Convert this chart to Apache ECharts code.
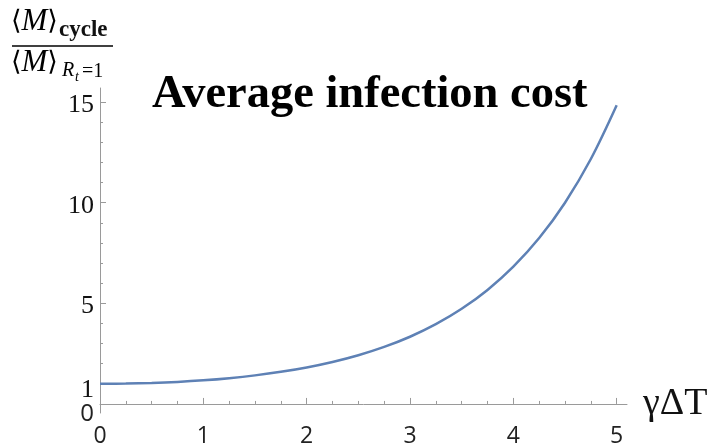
<!DOCTYPE html>
<html><head><meta charset="utf-8">
<script src="https://cdn.jsdelivr.net/npm/echarts@6/dist/echarts.min.js"></script>
<style>html,body{margin:0;padding:0;background:#fff}#c{width:714px;height:448px}</style>
</head><body><div id="c"></div>
<script>
const xValues = [0,0.25,0.5,0.75,1,1.25,1.5,1.75,2,2.25,2.5,2.75,3,3.25,3.5,3.75,4,4.25,4.5,4.75,5];
const costRatio = [1,1.010,1.042,1.096,1.175,1.282,1.420,1.595,1.813,2.085,2.420,2.833,3.339,3.962,4.727,5.666,6.823,8.243,10.00,12.17,14.84];
const xMajorTicks = [0,1,2,3,4,5];
const xMinorTicks = [0.25,0.5,0.75,1.25,1.5,1.75,2.25,2.5,2.75,3.25,3.5,3.75,4.25,4.5,4.75];
const xTickLabels = [0,1,2,3,4,5];
const yMajorTicks = [0,5,10,15];
const yMinorTicks = [1,2,3,4,6,7,8,9,11,12,13,14];
const yTickLabels = [1,5,10,15];
const yZeroLabel = [0];
const titleText = 'Average infection cost';
const xName = 'γΔT';

const axisGray = '#9a9a9a';
const chart = echarts.init(document.getElementById('c'));
const baseX = {type:'value', min:0, max:5.1, position:'bottom', splitLine:{show:false}};
const baseY = {type:'value', min:-0.45, max:15.7, position:'left', splitLine:{show:false}};
chart.setOption({
  animation:false,
  grid:{left:100, right:87, top:88, bottom:34},
  xAxis:[
    Object.assign({}, baseX, {
      axisLine:{lineStyle:{color:axisGray, width:1}},
      axisTick:{inside:true, length:6, customValues:xMajorTicks, lineStyle:{color:axisGray}},
      axisLabel:{customValues:xTickLabels, showMinLabel:true, margin:12, fontFamily:'Open Sans', fontSize:23, color:'#222'},
      name:xName, nameLocation:'end', nameGap:16,
      nameTextStyle:{fontFamily:'Liberation Serif', fontSize:38, color:'#111', verticalAlign:'middle'}
    }),
    Object.assign({}, baseX, {
      axisLine:{show:false},
      axisTick:{inside:true, length:3, customValues:xMinorTicks, lineStyle:{color:axisGray}},
      axisLabel:{show:false}
    })
  ],
  yAxis:[
    Object.assign({}, baseY, {
      axisLine:{lineStyle:{color:axisGray, width:1}},
      axisTick:{inside:true, length:6, customValues:yMajorTicks, lineStyle:{color:axisGray}},
      axisLabel:{customValues:yTickLabels, showMinLabel:true, margin:6,
        formatter:v => v===1 ? '{o|1}' : '{r|'+v+'}',
        rich:{
          r:{fontFamily:'Liberation Serif', fontSize:26, color:'#111', padding:[6,0,0,0]},
          o:{fontFamily:'Liberation Serif', fontSize:26, color:'#111', padding:[12,0,0,0]}
        }}
    }),
    Object.assign({}, baseY, {
      axisLine:{show:false},
      axisTick:{inside:true, length:3, customValues:yMinorTicks, lineStyle:{color:axisGray}},
      axisLabel:{customValues:yZeroLabel, showMinLabel:true, margin:6,
        formatter:v => '{z|'+v+'}',
        rich:{z:{fontFamily:'Open Sans', fontSize:24, color:'#222', padding:[20,0,0,0]}}}
    })
  ],
  series:[{
    type:'line', xAxisIndex:0, yAxisIndex:0,
    data:xValues.map((x,i)=>[x,costRatio[i]]),
    showSymbol:false, smooth:0.35,
    lineStyle:{color:'#5E81B5', width:2.5}
  }],
  graphic:[
    {type:'text', left:152, top:71, style:{text:titleText, font:'bold 46.5px "Liberation Serif"', fill:'#000'}},
    {type:'text', x:11, y:6, style:{text:'{b|⟨}{i|M}{b|⟩}', rich:{
      b:{fontFamily:'DejaVu Serif', fontSize:27, fill:'#000'},
      i:{fontFamily:'Liberation Serif', fontStyle:'italic', fontSize:31, fill:'#000'}}}},
    {type:'text', x:59, y:19, style:{text:'cycle', font:'bold 23px "Liberation Serif"', fill:'#111'}},
    {type:'line', shape:{x1:12, y1:46, x2:113, y2:46}, style:{stroke:'#000', lineWidth:1.3}},
    {type:'text', x:11, y:47, style:{text:'{b|⟨}{i|M}{b|⟩}', rich:{
      b:{fontFamily:'DejaVu Serif', fontSize:27, fill:'#000'},
      i:{fontFamily:'Liberation Serif', fontStyle:'italic', fontSize:31, fill:'#000'}}}},
    {type:'text', x:62, y:61, style:{text:'R', font:'italic 20px "Liberation Serif"', fill:'#000'}},
    {type:'text', x:75, y:70, style:{text:'t', font:'italic 14px "Liberation Serif"', fill:'#000'}},
    {type:'text', x:82, y:62, style:{text:'=1', font:'20px "Liberation Serif"', fill:'#000'}}
  ]
});
</script></body></html>
